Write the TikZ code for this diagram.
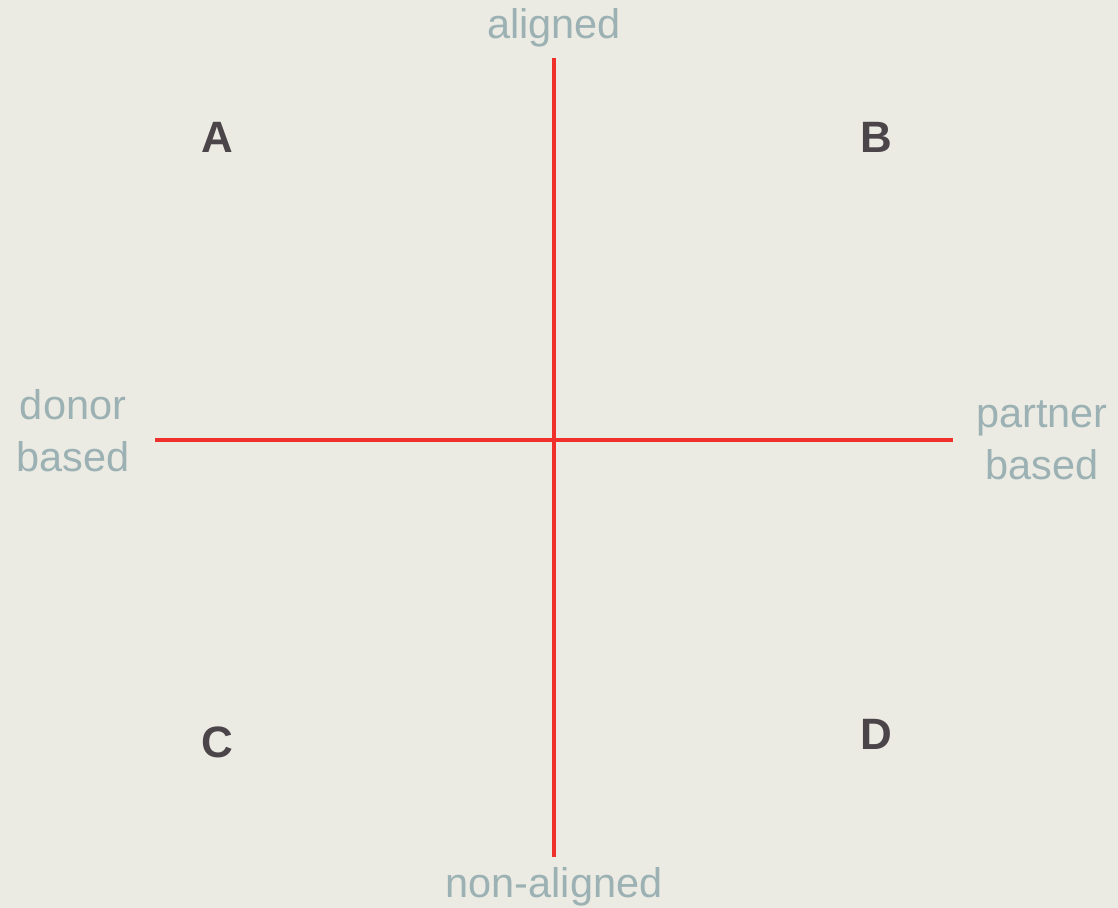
\documentclass[tikz,border=0pt]{standalone}
\usepackage{fontspec}
\setmainfont{Liberation Sans}
\definecolor{bgcol}{HTML}{ECEBE3}
\definecolor{axiscol}{HTML}{F0302A}
\definecolor{labelcol}{HTML}{9BB1B3}
\definecolor{quadcol}{HTML}{4B4449}
\tikzset{
  axis/.style={axiscol, line width=4pt*0.5669},
  axislabel/.style={labelcol, font=\fontsize{23.6}{29.5}\selectfont, align=center, inner sep=0pt},
  quadrant/.style={quadcol, font=\fontsize{25}{29}\selectfont\bfseries, inner sep=0pt}
}
\begin{document}
\begin{tikzpicture}[x=0.02cm, y=-0.02cm]
    \fill[bgcol] (0,0) rectangle (1118,908);
    \useasboundingbox (0,0) rectangle (1118,908);

    % axes
    \coordinate (top) at (554,58);
    \coordinate (bottom) at (554,857);
    \coordinate (left) at (155,440);
    \coordinate (right) at (953,440);
    \draw[axis] (top) -- (bottom);
    \draw[axis] (left) -- (right);

    % axis ends
    \node[axislabel, anchor=base] (aligned) at (554,39) {aligned};
    \node[axislabel, anchor=base] (nonaligned) at (554,897) {non-aligned};
    \node[axislabel] (donor) at (73,431) {donor\\based};
    \node[axislabel] (partner) at (1042,440) {partner\\based};

    % quadrants
    \node[quadrant, anchor=base] (A) at (217,153) {A};
    \node[quadrant, anchor=base] (B) at (876,153) {B};
    \node[quadrant, anchor=base] (C) at (217,757) {C};
    \node[quadrant, anchor=base] (D) at (876,749) {D};
\end{tikzpicture}
\end{document}
